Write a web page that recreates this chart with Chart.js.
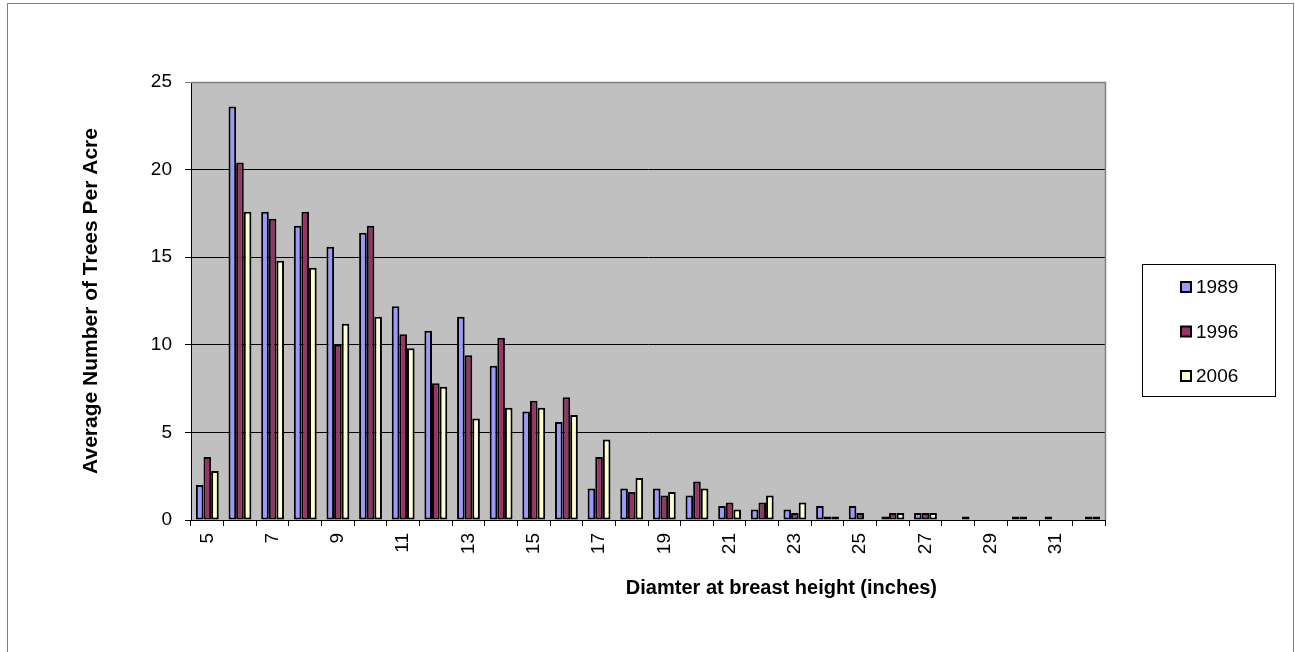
<!DOCTYPE html>
<html>
<head>
<meta charset="utf-8">
<script src="https://cdn.jsdelivr.net/npm/chart.js@4"></script>
<style>
  body { margin: 0; background: #fff; }
  #grafico { display: block; }
</style>
</head>
<body>
<canvas id="grafico" width="1295" height="652"></canvas>
<script>
const diametros = [5, 6, 7, 8, 9, 10, 11, 12, 13, 14, 15, 16, 17, 18, 19, 20, 21, 22, 23, 24, 25, 26, 27, 28, 29, 30, 31, 32];
const anios = ["1989", "1996", "2006"];
const arboles1989 = [2.0, 23.6, 17.6, 16.8, 15.6, 16.4, 12.2, 10.8, 11.6, 8.8, 6.2, 5.6, 1.8, 1.8, 1.8, 1.4, 0.8, 0.6, 0.6, 0.8, 0.8, 0.2, 0.4, 0, 0, 0.2, 0.2, 0];
const arboles1996 = [3.6, 20.4, 17.2, 17.6, 10.0, 16.8, 10.6, 7.8, 9.4, 10.4, 6.8, 7.0, 3.6, 1.6, 1.4, 2.2, 1.0, 1.0, 0.4, 0.2, 0.4, 0.4, 0.4, 0, 0, 0.2, 0, 0.2];
const arboles2006 = [2.8, 17.6, 14.8, 14.4, 11.2, 11.6, 9.8, 7.6, 5.8, 6.4, 6.4, 6.0, 4.6, 2.4, 1.6, 1.8, 0.6, 1.4, 1.0, 0.2, 0, 0.4, 0.4, 0.2, 0, 0, 0, 0.2];
const ticksY = [0, 5, 10, 15, 20, 25];
const tituloX = "Diamter at breast height (inches)";
const tituloY = "Average Number of Trees Per Acre";

const colores = ["#9999FF", "#993366", "#FFFFCC"];
const fuente = "'Liberation Sans', Arial, sans-serif";

// fondo gris del area, marco exterior, titulo X y leyenda
const decorado = {
  id: "decorado",
  beforeDraw: (chart) => {
    const { ctx, chartArea: a } = chart;
    ctx.save();
    ctx.fillStyle = "#C0C0C0";
    ctx.fillRect(a.left, a.top, a.right - a.left, a.bottom - a.top);
    ctx.restore();
  },
  afterDraw: (chart) => {
    const { ctx, chartArea: a } = chart;
    ctx.save();
    // borde del area de trazado (arriba y derecha)
    ctx.strokeStyle = "#808080";
    ctx.lineWidth = 1.5;
    ctx.beginPath();
    ctx.moveTo(a.left, a.top + 0.5);
    ctx.lineTo(a.right + 0.5, a.top + 0.5);
    ctx.lineTo(a.right + 0.5, a.bottom);
    ctx.stroke();

    // marco exterior
    ctx.strokeStyle = "#808080";
    ctx.lineWidth = 1;
    ctx.strokeRect(7.5, 3.5, 1286, 700);

    // titulo eje X
    ctx.fillStyle = "#000";
    ctx.font = "bold 20px " + fuente;
    ctx.textAlign = "center";
    ctx.textBaseline = "middle";
    ctx.fillText(tituloX, a.left + 0.646 * (a.right - a.left), a.bottom + 68);

    // leyenda
    const cx = a.right + 37, cy = 264;
    ctx.strokeStyle = "#000";
    ctx.lineWidth = 1;
    ctx.strokeRect(cx + 0.5, cy + 0.5, 133, 132);
    ctx.font = "19px " + fuente;
    ctx.textAlign = "left";
    chart.data.datasets.forEach((ds, i) => {
      const y = cy + 23 + i * 44.5;
      ctx.fillStyle = ds.backgroundColor;
      ctx.fillRect(cx + 39, y - 5, 10, 10);
      ctx.lineWidth = 2;
      ctx.strokeStyle = "#000";
      ctx.strokeRect(cx + 39, y - 5, 10, 10);
      ctx.fillStyle = "#000";
      ctx.fillText(ds.label, cx + 54, y + 1);
    });
    ctx.restore();
  }
};

const series = [arboles1989, arboles1996, arboles2006];

const graf = new Chart(document.querySelector("#grafico"), {
  type: "bar",
  data: {
    labels: diametros,
    datasets: anios.map((anio, i) => ({
      label: anio,
      data: series[i],
      backgroundColor: colores[i],
      borderColor: "#000",
      borderWidth: 2,
      borderSkipped: false,
      inflateAmount: 0,
      categoryPercentage: 0.7,
      barPercentage: 1.0
    }))
  },
  options: {
    responsive: false,
    animation: false,
    layout: { padding: { left: 70, top: 82, right: 190, bottom: 0 } },
    plugins: {
      legend: { display: false },
      tooltip: { enabled: false }
    },
    scales: {
      x: {
        afterFit: (s) => { s.height = 132; },
        border: { color: "#000", width: 1 },
        grid: { offset: true, drawOnChartArea: false, tickLength: 6, color: "#000" },
        ticks: {
          autoSkip: false,
          minRotation: 90,
          maxRotation: 90,
          padding: 7,
          color: "#000",
          font: { family: fuente, size: 19 },
          callback: (v, i) => (i % 2 === 0 ? diametros[i] : "")
        }
      },
      y: {
        min: 0,
        max: 25,
        afterFit: (s) => { s.width = 121; },
        afterBuildTicks: (s) => { s.ticks = ticksY.map((v) => ({ value: v })); },
        border: { color: "#000", width: 1 },
        grid: {
          tickLength: 6,
          color: (c) => (c.tick && c.tick.value === 25 ? "#808080" : "#000")
        },
        ticks: {
          padding: 13,
          color: "#000",
          font: { family: fuente, size: 19 }
        },
        title: {
          display: true,
          text: tituloY,
          color: "#000",
          padding: { top: 9, bottom: 0 },
          font: { family: fuente, size: 21, weight: "bold" }
        }
      }
    }
  },
  plugins: [decorado]
});
</script>
</body>
</html>
